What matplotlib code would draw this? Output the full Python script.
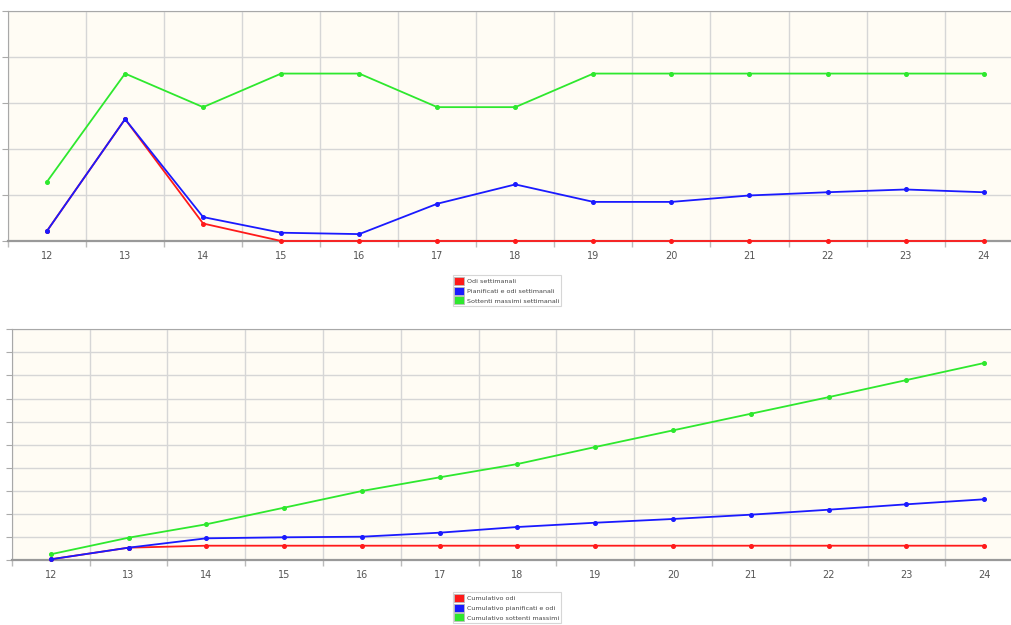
import matplotlib
matplotlib.use("Agg")
import matplotlib.pyplot as plt
from matplotlib.patches import Patch
from matplotlib.ticker import MultipleLocator

weeks = [12, 13, 14, 15, 16, 17, 18, 19, 20, 21, 22, 23, 24]

# weekly values
odi_sett = [2.2, 26.5, 3.8, 0, 0, 0, 0, 0, 0, 0, 0, 0, 0]
pianif_sett = [2.2, 26.5, 5.2, 1.8, 1.5, 8.1, 12.3, 8.5, 8.5, 9.9, 10.6, 11.2, 10.6]
max_sett = [12.9, 36.4, 29.1, 36.4, 36.4, 29.1, 29.1, 36.4, 36.4, 36.4, 36.4, 36.4, 36.4]

# cumulative values
cum_odi = [1.5, 26.7, 31, 31, 31, 31, 31, 31, 31, 31, 31, 31, 31]
cum_pianif = [1.5, 26.7, 47, 49.2, 50.5, 59.2, 71.5, 80.8, 88.9, 98.2, 109, 120.7, 131.6]
cum_max = [12.4, 48.3, 77.4, 113.4, 149.5, 179.2, 208, 244.9, 281, 317, 353, 390, 427]

labels_top = ["Odi settimanali", "Pianificati e odi settimanali", "Sottenti massimi settimanali"]
labels_bot = ["Cumulativo odi", "Cumulativo pianificati e odi", "Cumulativo sottenti massimi"]

RED, BLUE, GREEN = "#ff1a1a", "#1a1aff", "#2ee82e"
BG = "#fffcf4"
GRID = "#d6d6d6"
SPINE = "#a8a8a8"

fig = plt.figure(figsize=(10.12, 6.25), dpi=100)
fig.patch.set_facecolor("white")

ax1 = fig.add_axes([8 / 1012, 1 - 241 / 625, 1 - 8 / 1012, 230 / 625])
ax2 = fig.add_axes([11.8 / 1012, 1 - 560 / 625, 1 - 11.8 / 1012, 230.7 / 625])


def style(ax, ymax, ystep, xright):
    ax.set_facecolor(BG)
    ax.set_xticks(weeks)
    ax.set_xticks([w + 0.5 for w in [11] + weeks[:-1]], minor=True)
    ax.set_xlim(11.5, xright)
    ax.set_ylim(0, ymax)
    ax.yaxis.set_major_locator(MultipleLocator(ystep))
    ax.tick_params(axis="x", which="major", length=0, labelsize=7, labelcolor="#555555", pad=7)
    ax.tick_params(axis="x", which="minor", length=4, color="#bbbbbb", width=1)
    ax.tick_params(axis="y", length=4, color="#aaaaaa", labelleft=False)
    ax.grid(True, axis="y", color=GRID, lw=1)
    ax.grid(True, axis="x", which="minor", color=GRID, lw=1)
    ax.set_axisbelow(True)
    ax.spines["right"].set_visible(False)
    ax.spines["top"].set_color(SPINE)
    ax.spines["left"].set_color(SPINE)
    ax.spines["bottom"].set_color("#999999")
    ax.spines["bottom"].set_linewidth(1.6)


style(ax1, 50, 10, 11.5 + (1012 - 8) / 78.05)
style(ax2, 500, 50, 11.5 + (1012 - 11.8) / 77.8)

kw = dict(lw=1.3, marker="o", ms=2.6, clip_on=False, zorder=3)
ax1.plot(weeks, odi_sett, color=RED, **kw)
ax1.plot(weeks, pianif_sett, color=BLUE, **kw)
ax1.plot(weeks, max_sett, color=GREEN, **kw)

ax2.plot(weeks, cum_odi, color=RED, **kw)
ax2.plot(weeks, cum_pianif, color=BLUE, **kw)
ax2.plot(weeks, cum_max, color=GREEN, **kw)


def add_legend(ax, labels, ytop):
    handles = [Patch(facecolor=c, edgecolor="#bbbbbb", lw=0.6) for c in (RED, BLUE, GREEN)]
    leg = fig.legend(handles, labels, loc="upper center",
                     bbox_to_anchor=(507 / 1012, 1 - ytop / 625),
                     fontsize=4.6, frameon=True, fancybox=False,
                     edgecolor="#cccccc", handlelength=1.55, handleheight=1.55,
                     handletextpad=0.5, labelspacing=0.3, borderpad=0.25,
                     borderaxespad=0, labelcolor="#444444")
    leg.get_frame().set_linewidth(0.8)
    return leg


add_legend(ax1, labels_top, 275)
add_legend(ax2, labels_bot, 592)

fig.savefig("out.png", dpi=100)
